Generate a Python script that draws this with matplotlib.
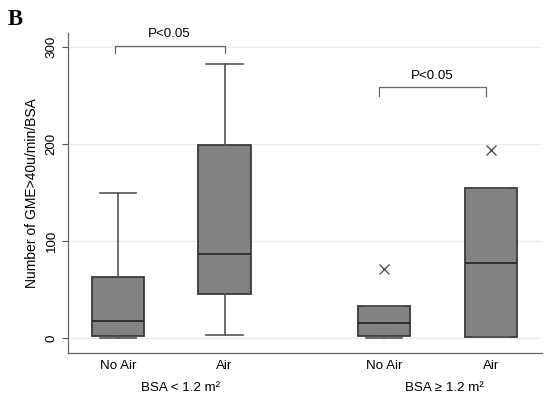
import matplotlib
matplotlib.use("Agg")
import matplotlib.pyplot as plt

plt.rcParams['font.family'] = ['Liberation Sans', 'DejaVu Sans']

groups = ["No Air", "Air", "No Air", "Air"]
group_labels = ["BSA < 1.2 m²", "BSA ≥ 1.2 m²"]
positions = [1, 2, 3.5, 4.5]
whislo = [0, 3, 0, 1]
q1 = [2.5, 45.5, 2.5, 1]
med = [18, 87, 15.5, 78]
q3 = [63.5, 199, 33, 155]
whishi = [150, 282.5, 33, 155]
fliers = [[], [], [71.5], [194]]
yticks = [0, 100, 200, 300]
pval_text = "P<0.05"
ylabel = "Number of GME>40u/min/BSA"

FS = 9.6

fig = plt.figure(figsize=(5.45, 3.96), dpi=100)
ax = fig.add_axes([68/545, 1-353/396, (542-68)/545, (353-33)/396])

stats = []
for i in range(len(groups)):
    stats.append(dict(whislo=whislo[i], q1=q1[i], med=med[i], q3=q3[i],
                      whishi=whishi[i], fliers=fliers[i], label=groups[i]))

edge = '#3a3a3a'
wcol = '#555555'
ax.bxp(stats, positions=positions, widths=0.49, capwidths=0.34,
       patch_artist=True, showcaps=True,
       boxprops=dict(facecolor='#828282', edgecolor=edge, linewidth=1.3),
       medianprops=dict(color='#2a2a2a', linewidth=1.3),
       whiskerprops=dict(color=wcol, linewidth=1.2),
       capprops=dict(color=wcol, linewidth=1.2),
       flierprops=dict(marker='x', markersize=7, markeredgecolor='#444444',
                       markeredgewidth=0.9))

ax.set_xlim(0.53, 4.98)
ax.set_ylim(-15, 314)
ax.set_yticks(yticks)
ax.set_yticklabels([str(t) for t in yticks], rotation=90, va='center', fontsize=FS)
ax.set_xticks(positions)
ax.set_xticklabels(groups, fontsize=FS)
ax.tick_params(axis='x', length=0, pad=5)
ax.tick_params(axis='y', length=4.3, width=0.8, color='#555555', pad=3)
for t in yticks:
    ax.axhline(t, color='#ececec', linewidth=0.9, zorder=0)

for s in ['top', 'right']:
    ax.spines[s].set_visible(False)
for s in ['left', 'bottom']:
    ax.spines[s].set_color('#666666')
    ax.spines[s].set_linewidth(0.9)

ax.set_ylabel(ylabel, fontsize=10, labelpad=5)

# group labels
ax.text(1.59, -0.11, group_labels[0], transform=ax.get_xaxis_transform(),
        ha='center', va='center', fontsize=FS)
ax.text(4.06, -0.11, group_labels[1], transform=ax.get_xaxis_transform(),
        ha='center', va='center', fontsize=FS)

# significance brackets
def bracket(x0, x1, y, drop):
    ax.plot([x0, x0, x1, x1], [y - drop, y, y, y - drop], color='#666666',
            linewidth=0.9, clip_on=False)
    ax.text((x0 + x1) / 2, y + 6, pval_text, ha='center', va='bottom',
            fontsize=FS, clip_on=False)

bracket(0.97, 2.0, 301, 8)
bracket(3.45, 4.45, 258, 9)

fig.text(8/545, 1-9/396, "B", family='Liberation Serif', fontweight='bold',
         fontsize=16.5, ha='left', va='top')

fig.savefig("out.png", dpi=100)
